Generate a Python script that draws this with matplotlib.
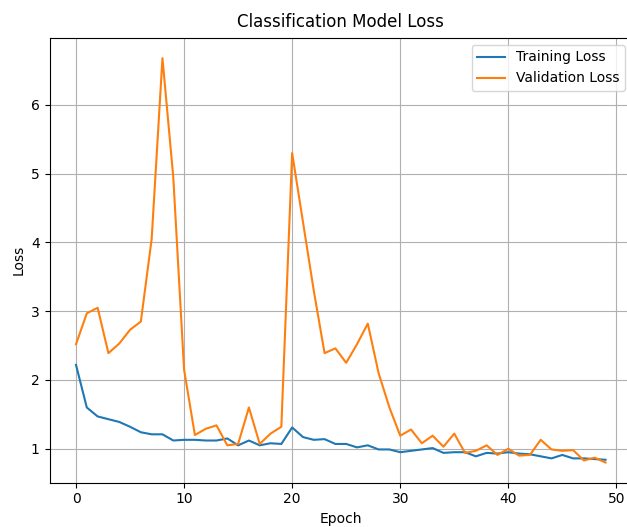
import matplotlib
matplotlib.use("Agg")
import matplotlib.pyplot as plt

epochs = list(range(50))
train_loss = [2.22, 1.60, 1.47, 1.43, 1.39, 1.32, 1.24, 1.21, 1.21, 1.12,
              1.13, 1.13, 1.12, 1.12, 1.15, 1.05, 1.12, 1.05, 1.08, 1.07,
              1.31, 1.17, 1.13, 1.14, 1.07, 1.07, 1.02, 1.05, 0.99, 0.99,
              0.95, 0.97, 0.99, 1.01, 0.94, 0.95, 0.95, 0.89, 0.94, 0.93,
              0.95, 0.93, 0.92, 0.89, 0.86, 0.91, 0.86, 0.86, 0.85, 0.84]
val_loss = [2.52, 2.97, 3.05, 2.39, 2.53, 2.73, 2.85, 4.05, 6.68, 4.95,
            2.15, 1.20, 1.29, 1.34, 1.05, 1.07, 1.60, 1.07, 1.22, 1.32,
            5.30, 4.30, 3.30, 2.39, 2.46, 2.25, 2.52, 2.82, 2.10, 1.60,
            1.19, 1.28, 1.08, 1.19, 1.03, 1.22, 0.94, 0.97, 1.05, 0.91,
            1.00, 0.90, 0.91, 1.13, 0.99, 0.97, 0.98, 0.83, 0.87, 0.80]

fig, ax = plt.subplots(figsize=(6.27, 5.27), dpi=100)
ax.plot(epochs, train_loss, label="Training Loss")
ax.plot(epochs, val_loss, label="Validation Loss")
ax.set_title("Classification Model Loss", pad=8)
ax.set_xlabel("Epoch")
ax.set_ylabel("Loss")
ax.legend()
ax.grid(True)
# reference is cropped on the right, so the axes run slightly past the edge
fig.subplots_adjust(left=0.079, right=1.008, top=0.928, bottom=0.084)
fig.savefig("out.png")
